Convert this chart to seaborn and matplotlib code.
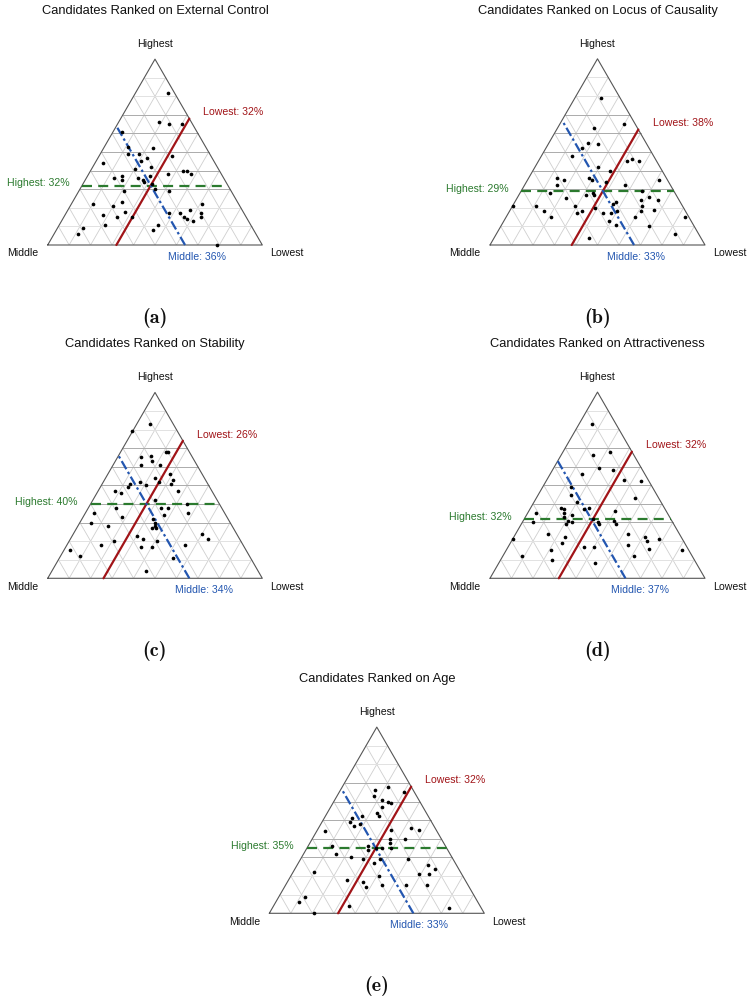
import numpy as np
import pandas as pd
import matplotlib
matplotlib.use("Agg")
import matplotlib.pyplot as plt
import seaborn as sns

sns.set_theme(style="white")
plt.rcParams["font.family"] = ["Liberation Sans", "DejaVu Sans"]
plt.rcParams["mathtext.fontset"] = "cm"

SQ3 = np.sqrt(3) / 2

# Share (%) of rankings each candidate received as Highest / Lowest;
# the Middle share is the remainder.
ext_highest = [82, 66, 65, 65, 61, 53, 52, 49, 49, 48, 47, 44, 45, 42, 41, 40, 40, 38, 38, 37,
               35, 36, 36, 35, 34, 37, 33, 30, 29, 29, 22, 23, 21, 18, 22, 19, 17, 17, 15, 14,
               13, 17, 15, 16, 15, 11, 15, 9, 6, 8, 11, 0]
ext_lowest = [15, 19, 24, 30, 4, 11, 23, 13, 18, 34, 23, 4, 21, 27, 20, 43, 45, 48, 37, 16,
              17, 13, 24, 27, 28, 29, 32, 35, 21, 42, 10, 23, 20, 27, 61, 57, 48, 53, 56, 58,
              61, 63, 64, 18, 25, 21, 32, 12, 11, 45, 46, 79]

loc_highest = [79, 63, 65, 55, 54, 52, 48, 46, 45, 45, 42, 40, 36, 35, 32, 36, 35, 34, 32, 35,
               28, 28, 27, 27, 25, 29, 26, 24, 24, 23, 21, 21, 18, 15, 21, 17, 18, 20, 17, 22,
               17, 18, 21, 18, 19, 15, 13, 11, 10, 15, 6, 4]
loc_lowest = [12, 17, 30, 18, 23, 17, 14, 43, 47, 41, 29, 36, 13, 17, 15, 28, 30, 37, 47, 61,
              14, 34, 35, 31, 23, 56, 61, 66, 58, 47, 0, 11, 16, 21, 29, 32, 34, 39, 44, 46,
              48, 50, 60, 61, 67, 60, 49, 53, 69, 83, 83, 44]

stab_highest = [83, 79, 68, 68, 65, 66, 63, 61, 61, 54, 52, 56, 53, 51, 50, 52, 51, 49, 47, 46,
                47, 42, 35, 38, 38, 38, 40, 35, 34, 30, 33, 28, 32, 30, 28, 27, 27, 23, 21, 20,
                17, 17, 20, 18, 24, 21, 18, 11, 15, 12, 4]
stab_lowest = [6, 0, 21, 22, 11, 15, 17, 13, 22, 23, 26, 29, 32, 32, 21, 17, 13, 13, 8, 11,
               37, 29, 4, 13, 34, 37, 45, 48, 37, 5, 18, 14, 33, 35, 36, 35, 37, 30, 34, 41,
               35, 40, 21, 16, 60, 64, 55, 53, 3, 9, 44]

attr_highest = [83, 66, 68, 59, 58, 56, 53, 52, 49, 45, 43, 41, 38, 37, 35, 33, 37, 38, 36, 35,
                30, 31, 34, 30, 29, 32, 30, 29, 31, 29, 24, 22, 19, 17, 17, 24, 18, 22, 20, 16,
                21, 15, 21, 12, 15, 10, 8, 12]
attr_lowest = [6, 15, 22, 21, 28, 15, 36, 44, 13, 15, 46, 20, 14, 16, 17, 18, 25, 27, 40, 4,
               5, 21, 21, 23, 21, 32, 35, 36, 42, 44, 15, 24, 24, 35, 40, 52, 55, 61, 63, 66,
               68, 82, 0, 9, 21, 24, 45, 61]

age_highest = [68, 66, 63, 65, 61, 60, 59, 57, 54, 52, 52, 51, 49, 47, 48, 44, 45, 46, 45, 40,
               38, 40, 36, 32, 36, 34, 35, 35, 35, 30, 29, 27, 29, 29, 26, 24, 21, 21, 22, 18,
               17, 14, 20, 15, 15, 15, 9, 6, 4, 0, 3]
age_lowest = [21, 16, 17, 30, 22, 25, 27, 24, 23, 25, 17, 13, 13, 16, 18, 4, 34, 43, 47, 36,
              37, 43, 11, 15, 28, 29, 32, 35, 39, 23, 29, 35, 37, 50, 61, 65, 59, 64, 10, 27,
              35, 38, 41, 45, 56, 66, 12, 11, 35, 21, 82]

attributes = ["External Control", "Locus of Causality", "Stability", "Attractiveness", "Age"]
panel_tags = ["a", "b", "c", "d", "e"]
mean_highest = [32, 29, 40, 32, 35]
mean_middle = [36, 33, 34, 37, 33]
mean_lowest = [32, 38, 26, 32, 32]

series = [(ext_highest, ext_lowest), (loc_highest, loc_lowest), (stab_highest, stab_lowest),
          (attr_highest, attr_lowest), (age_highest, age_lowest)]

# Panel placement in pixels: left corner x, base line y (from top), side length.
W, H = 750, 998
panel_px = [(47.7, 245.0, 214.6), (490.0, 245.0, 215.0), (47.7, 578.3, 214.6),
            (490.0, 578.3, 215.0), (269.3, 913.3, 215.0)]
middle_label_dx = [0.054, 0.009, 0.067, 0.067, 0.025]

RED = "#a11418"
GREEN = "#2b7a2e"
BLUE = "#2356b0"
GRID_FAINT = "#e2e2e2"
GRID_LIGHT = "#cfcfcf"
GRID_MID = "#ababab"


def to_xy(h, l):
    h = np.asarray(h, float) / 100
    l = np.asarray(l, float) / 100
    return l + h / 2, h * SQ3


fig = plt.figure(figsize=(W / 100, H / 100), dpi=100)
fig.patch.set_facecolor("white")

for i, ((hs, ls), name, tag) in enumerate(zip(series, attributes, panel_tags)):
    px, py, side = panel_px[i]
    ax = fig.add_axes([px / W, 1 - py / H, side / W, side * SQ3 / H])
    ax.set_xlim(0, 1)
    ax.set_ylim(0, SQ3)
    ax.set_axis_off()

    # ternary grid at 10% steps
    for k in range(1, 10):
        t = k / 10
        ax.plot([t / 2, 1 - t / 2], [t * SQ3, t * SQ3],
                color=GRID_MID if 3 <= k <= 7 else GRID_FAINT, lw=0.7, zorder=1)
        ax.plot([t, 0.5 + t / 2], [0, (1 - t) * SQ3], color=GRID_LIGHT, lw=0.6, zorder=0.9)
        ax.plot([1 - t, (1 - t) / 2], [0, (1 - t) * SQ3], color=GRID_LIGHT, lw=0.6, zorder=0.9)
    ax.plot([0, 1, 0.5, 0], [0, 0, SQ3, 0], color="#555555", lw=0.8, zorder=2, clip_on=False)

    # candidates
    x, y = to_xy(hs, ls)
    df = pd.DataFrame({"x": x, "y": y})
    sns.scatterplot(data=df, x="x", y="y", ax=ax, color="black", s=7, linewidth=0,
                    legend=False, zorder=4, clip_on=False)
    ax.set_xlabel("")
    ax.set_ylabel("")

    # mean lines
    hm, mm, lm = mean_highest[i] / 100, mean_middle[i] / 100, mean_lowest[i] / 100
    ax.plot([hm / 2, 1 - hm / 2], [hm * SQ3, hm * SQ3], color=GREEN, lw=1.6,
            dashes=(4.5, 2.8), zorder=3, clip_on=False)
    ax.plot([lm, 0.5 + lm / 2], [0, (1 - lm) * SQ3], color=RED, lw=1.6, zorder=3, clip_on=False)
    ax.plot([1 - mm, (1 - mm) / 2], [0, (1 - mm) * SQ3], color=BLUE, lw=1.6,
            dashes=(4.2, 1.4, 1.1, 1.4), zorder=3, clip_on=False)

    fs = 7.6
    ax.text(0.5 + lm / 2 + 0.066, (1 - lm) * SQ3 + 0.029, f"Lowest: {mean_lowest[i]}%",
            color=RED, fontsize=fs, ha="left", va="center")
    ax.text(hm / 2 - 0.06, hm * SQ3 + 0.01, f"Highest: {mean_highest[i]}%",
            color=GREEN, fontsize=fs, ha="right", va="center")
    ax.text(1 - mm + middle_label_dx[i], -0.054, f"Middle: {mean_middle[i]}%",
            color=BLUE, fontsize=fs, ha="center", va="center")

    # corner labels
    ax.text(0.5, SQ3 + 0.07, "Highest", fontsize=fs, ha="center", va="center", color="#111111")
    ax.text(-0.116, -0.039, "Middle", fontsize=fs, ha="center", va="center", color="#111111")
    ax.text(1.116, -0.039, "Lowest", fontsize=fs, ha="center", va="center", color="#111111")

    ax.text(0.5, SQ3 + 0.224, f"Candidates Ranked on {name}", fontsize=9.3,
            ha="center", va="center", color="#111111")
    ax.text(0.5, -0.34, f"({tag})", fontsize=14.5, family=["cmb10", "DejaVu Serif"],
            ha="center", va="center", color="#111111")

fig.savefig("out.png", dpi=100, facecolor="white")
